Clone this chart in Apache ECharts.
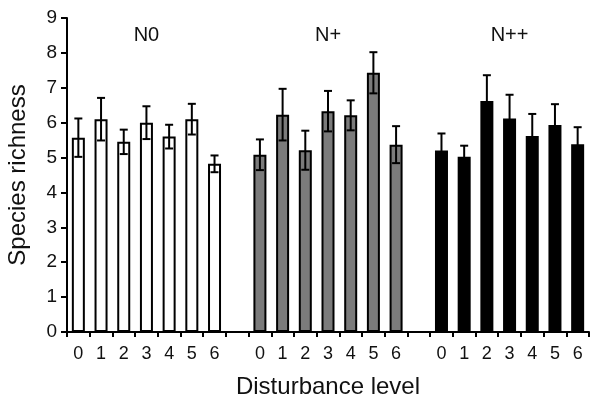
<!DOCTYPE html>
<html>
<head>
<meta charset="utf-8">
<script src="https://cdn.jsdelivr.net/npm/echarts@6/dist/echarts.min.js"></script>
<style>
  html, body { margin: 0; padding: 0; background: #fff; }
  #chart { width: 590px; height: 395px; }
</style>
</head>
<body>
<div id="chart"></div>
<script>
// Disturbance levels within each nitrogen treatment
const levels = ["0", "1", "2", "3", "4", "5", "6"];
const groupNames = ["N0", "N+", "N++"];

// Mean species richness per disturbance level
const n0Means = [5.57, 6.1, 5.45, 6.0, 5.6, 6.1, 4.82];
const nPlusMeans = [5.08, 6.23, 5.21, 6.33, 6.21, 7.43, 5.37];
const nPlusPlusMeans = [5.2, 5.02, 6.62, 6.12, 5.62, 5.93, 5.38];

// Standard errors
const n0Errors = [0.55, 0.61, 0.35, 0.47, 0.34, 0.44, 0.24];
const nPlusErrors = [0.44, 0.74, 0.56, 0.58, 0.43, 0.59, 0.53];
const nPlusPlusErrors = [0.49, 0.32, 0.74, 0.68, 0.63, 0.6, 0.49];

// Build the category axis: 7 levels, an empty spacer, 7 levels, spacer, 7 levels
const categories = [...levels, "", ...levels, "", ...levels];
const groupSize = levels.length + 1;

const padGroup = (values, groupIndex) =>
  categories.map((c, i) => {
    const start = groupIndex * groupSize;
    return i >= start && i < start + levels.length ? values[i - start] : null;
  });

const allMeans = [n0Means, nPlusMeans, nPlusPlusMeans];
const allErrors = [n0Errors, nPlusErrors, nPlusPlusErrors];
const errData = [];
allMeans.forEach((means, g) => {
  means.forEach((m, k) => {
    const e = allErrors[g][k];
    errData.push([g * groupSize + k, m - e, m + e]);
  });
});

// Group label sits over the middle level of each group
const labelData = groupNames.map((name, g) => [g * groupSize + 3, 8.5, name]);

const chart = echarts.init(document.getElementById("chart"));

const fontFamily = "Liberation Sans, Arial, sans-serif";

const barSeries = (name, data, color) => ({
  name,
  type: "bar",
  data,
  barWidth: 13,
  barGap: "-100%",
  itemStyle: { color, borderColor: "#000", borderWidth: 2 },
  silent: true,
});

const option = {
  animation: false,
  grid: { left: 67, right: 1, top: 18, bottom: 63, outerBoundsMode: "none" },
  xAxis: {
    type: "category",
    data: categories,
    name: "Disturbance level",
    nameLocation: "middle",
    nameGap: 43,
    nameTextStyle: { fontFamily, fontSize: 24, color: "#111" },
    axisLine: { lineStyle: { color: "#000", width: 2 } },
    axisTick: { show: true, interval: 0, length: 5, lineStyle: { color: "#000", width: 2 } },
    axisLabel: { interval: 0, margin: 13, fontFamily, fontSize: 18, color: "#111" },
  },
  yAxis: {
    type: "value",
    min: 0,
    max: 9,
    interval: 1,
    name: "Species richness",
    nameLocation: "middle",
    nameGap: 37,
    nameTextStyle: { fontFamily, fontSize: 24, color: "#111" },
    splitLine: { show: false },
    axisLine: { show: true, lineStyle: { color: "#000", width: 2 } },
    axisTick: { show: true, length: 6, lineStyle: { color: "#000", width: 2 } },
    axisLabel: { margin: 10, fontFamily, fontSize: 19, color: "#111" },
  },
  series: [
    barSeries("N0", padGroup(n0Means, 0), "#ffffff"),
    barSeries("N+", padGroup(nPlusMeans, 1), "#7b7b7b"),
    barSeries("N++", padGroup(nPlusPlusMeans, 2), "#000000"),
    {
      name: "errors",
      type: "custom",
      data: errData,
      z: 5,
      silent: true,
      renderItem: (params, api) => {
        const x = api.value(0);
        const lo = api.coord([x, api.value(1)]);
        const hi = api.coord([x, api.value(2)]);
        const half = 4;
        const style = { stroke: "#000", lineWidth: 2 };
        return {
          type: "group",
          children: [
            { type: "line", shape: { x1: hi[0], y1: hi[1], x2: lo[0], y2: lo[1] }, style },
            { type: "line", shape: { x1: hi[0] - half, y1: hi[1], x2: hi[0] + half, y2: hi[1] }, style },
            { type: "line", shape: { x1: lo[0] - half, y1: lo[1], x2: lo[0] + half, y2: lo[1] }, style },
          ],
        };
      },
    },
    {
      name: "groupLabels",
      type: "custom",
      data: labelData,
      silent: true,
      renderItem: (params, api) => {
        const p = api.coord([api.value(0), api.value(1)]);
        return {
          type: "text",
          x: p[0],
          y: p[1],
          style: {
            text: labelData[params.dataIndex][2],
            fontFamily,
            fontSize: 20,
            fill: "#111",
            align: "center",
            verticalAlign: "middle",
          },
        };
      },
    },
  ],
};

chart.setOption(option);
</script>
</body>
</html>
